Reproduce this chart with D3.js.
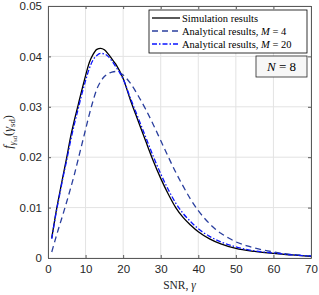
<!DOCTYPE html>
<html>
<head>
<meta charset="utf-8">
<script src="https://cdn.jsdelivr.net/npm/d3@7"></script>
<style>
  body { margin: 0; background: #fff; }
  svg { display: block; }
</style>
</head>
<body>
<svg id="chart" width="319" height="295"></svg>
<script>
// values
const xTicks = [0, 10, 20, 30, 40, 50, 60, 70];
const yTicks = [0, 0.01, 0.02, 0.03, 0.04, 0.05];

const simGamma = [1, 2, 3, 4, 5, 6, 7, 8, 9, 10, 11, 12, 13, 14, 15, 16, 17, 18, 20, 22, 24, 26, 28, 30, 32, 34, 36, 38, 40, 43, 46, 50, 55, 60, 65, 70];
const simValues = [0.0040, 0.0085, 0.0125, 0.0163, 0.0200, 0.0240, 0.0273, 0.0303, 0.0333, 0.0362, 0.0388, 0.0404, 0.0414, 0.0416, 0.0413, 0.0405, 0.0395, 0.0385, 0.0356, 0.0312, 0.0272, 0.0232, 0.0193, 0.0158, 0.0127, 0.0100, 0.0080, 0.0065, 0.0052, 0.0038, 0.0028, 0.0019, 0.0013, 0.0009, 0.0006, 0.0003];

const m20Values = [0.0038, 0.0083, 0.0122, 0.0160, 0.0195, 0.0232, 0.0265, 0.0295, 0.0325, 0.0352, 0.0376, 0.0393, 0.0402, 0.0406, 0.0405, 0.0400, 0.0391, 0.0380, 0.0355, 0.0316, 0.0278, 0.0240, 0.0202, 0.0167, 0.0136, 0.0109, 0.0088, 0.0072, 0.0058, 0.0043, 0.0032, 0.0022, 0.0014, 0.0010, 0.0006, 0.0004];

const m4Gamma = [1, 2, 3, 4, 5, 6, 7, 8, 9, 10, 11, 12, 13, 14, 15, 16, 17, 18, 19, 20, 22, 24, 26, 28, 30, 32, 34, 36, 38, 40, 42, 44, 46, 48, 50, 53, 56, 60, 65, 70];
const m4Values = [0.0012, 0.0038, 0.0063, 0.0087, 0.0112, 0.0138, 0.0165, 0.0195, 0.0225, 0.0255, 0.0285, 0.0312, 0.0335, 0.0350, 0.0360, 0.0366, 0.0369, 0.0370, 0.0368, 0.0363, 0.0346, 0.0322, 0.0295, 0.0265, 0.0233, 0.0201, 0.0170, 0.0142, 0.0116, 0.0094, 0.0076, 0.0061, 0.0049, 0.0040, 0.0032, 0.0024, 0.0018, 0.0012, 0.0007, 0.0004];

const series = [
  { label: 'Simulation results', m: null, xs: simGamma, ys: simValues, color: '#000000', dash: null },
  { label: 'Analytical results, ', m: '4', xs: m4Gamma, ys: m4Values, color: '#2a3f9e', dash: '6,4' },
  { label: 'Analytical results, ', m: '20', xs: simGamma, ys: m20Values, color: '#0a14ff', dash: '5,2,1.5,2' }
];

const margin = { top: 6, right: 8, bottom: 37, left: 48 };
const width = 319, height = 295;
const svg = d3.select('#chart');

const x = d3.scaleLinear().domain([0, 70]).range([margin.left, width - margin.right]);
const y = d3.scaleLinear().domain([0, 0.05]).range([height - margin.bottom, margin.top]);

const sans = "'Liberation Sans', Arial, Helvetica, sans-serif";
const serif = "'Liberation Serif', 'Times New Roman', serif";
const axisColor = '#5a5a5a';

// grid
const grid = svg.append('g');
grid.selectAll('.gx').data(xTicks).join('line')
  .attr('x1', d => x(d)).attr('x2', d => x(d))
  .attr('y1', y(0)).attr('y2', y(0.05))
  .attr('stroke', '#e3e3e3').attr('stroke-width', 1);
grid.selectAll('.gy').data(yTicks).join('line')
  .attr('y1', d => y(d)).attr('y2', d => y(d))
  .attr('x1', x(0)).attr('x2', x(70))
  .attr('stroke', '#e3e3e3').attr('stroke-width', 1);

// curves
const line = d3.line().curve(d3.curveMonotoneX);
series.forEach(s => {
  const pts = s.xs.map((g, i) => [x(g), y(s.ys[i])]);
  svg.append('path')
    .attr('d', line(pts))
    .attr('fill', 'none')
    .attr('stroke', s.color)
    .attr('stroke-width', 1.3)
    .attr('stroke-dasharray', s.dash);
});

// axes (MATLAB style: box, ticks inside)
const xAxisB = d3.axisBottom(x).tickValues(xTicks).tickSizeInner(-3).tickSizeOuter(0).tickPadding(7);
const xAxisT = d3.axisTop(x).tickValues(xTicks).tickSizeInner(-3).tickSizeOuter(0).tickFormat('');
const yAxisL = d3.axisLeft(y).tickValues(yTicks).tickSizeInner(-3).tickSizeOuter(0).tickPadding(6)
  .tickFormat(d => d === 0 ? '0' : d3.format('.2f')(d));
const yAxisR = d3.axisRight(y).tickValues(yTicks).tickSizeInner(-3).tickSizeOuter(0).tickFormat('');

function styleAxis(g) {
  g.select('.domain').attr('stroke', axisColor).attr('stroke-width', 1);
  g.selectAll('.tick line').attr('stroke', axisColor);
  g.selectAll('.tick text').attr('fill', '#262626').style('font-family', sans).style('font-size', '11.5px');
}
svg.append('g').attr('transform', `translate(0,${y(0)})`).call(xAxisB).call(styleAxis);
svg.append('g').attr('transform', `translate(0,${y(0.05)})`).call(xAxisT).call(styleAxis);
svg.append('g').attr('transform', `translate(${x(0)},0)`).call(yAxisL).call(styleAxis);
svg.append('g').attr('transform', `translate(${x(70)},0)`).call(yAxisR).call(styleAxis);

// x label
const xl = svg.append('text')
  .attr('x', (x(0) + x(70)) / 2).attr('y', 289)
  .attr('text-anchor', 'middle')
  .style('font-family', serif).style('font-size', '11.5px').attr('fill', '#262626');
xl.append('tspan').text('SNR, ');
xl.append('tspan').style('font-style', 'italic').text('γ');

// y label
const yl = svg.append('text')
  .attr('transform', `translate(12,${(y(0) + y(0.05)) / 2}) rotate(-90)`)
  .attr('text-anchor', 'middle')
  .style('font-family', serif).style('font-size', '12.5px').attr('fill', '#262626');
yl.append('tspan').style('font-style', 'italic').text('f');
yl.append('tspan').style('font-style', 'italic').style('font-size', '9px').attr('dy', 3).text('γ');
yl.append('tspan').style('font-size', '6.5px').attr('dy', 1.5).text('sd');
yl.append('tspan').attr('dy', -4.5).text('(');
yl.append('tspan').style('font-style', 'italic').text('γ');
yl.append('tspan').style('font-size', '8.5px').attr('dy', 2.5).text('sd');
yl.append('tspan').attr('dy', -2.5).text(')');

// legend
const lg = svg.append('g');
lg.append('rect')
  .attr('x', 149).attr('y', 10).attr('width', 158).attr('height', 43)
  .attr('fill', '#fff').attr('stroke', '#000').attr('stroke-width', 0.8);
series.forEach((s, i) => {
  const ly = 18 + i * 13;
  lg.append('line')
    .attr('x1', 152).attr('x2', 180).attr('y1', ly).attr('y2', ly)
    .attr('stroke', s.color).attr('stroke-width', 1.3)
    .attr('stroke-dasharray', s.dash);
  const t = lg.append('text')
    .attr('x', 182).attr('y', ly + 3.5)
    .style('font-family', serif).style('font-size', '10.5px').attr('fill', '#000');
  t.append('tspan').text(s.label);
  if (s.m) {
    t.append('tspan').style('font-style', 'italic').text('M');
    t.append('tspan').text(' = ' + s.m);
  }
});

// N = 8 annotation
const nb = svg.append('g');
nb.append('rect')
  .attr('x', 256).attr('y', 56).attr('width', 51).attr('height', 21)
  .attr('fill', '#f7f7f7').attr('stroke', '#262626').attr('stroke-width', 0.8);
const nt = nb.append('text')
  .attr('x', 281.5).attr('y', 71)
  .attr('text-anchor', 'middle')
  .style('font-family', serif).style('font-size', '13px').attr('fill', '#000');
nt.append('tspan').style('font-style', 'italic').text('N');
nt.append('tspan').text(' = 8');
</script>
</body>
</html>
